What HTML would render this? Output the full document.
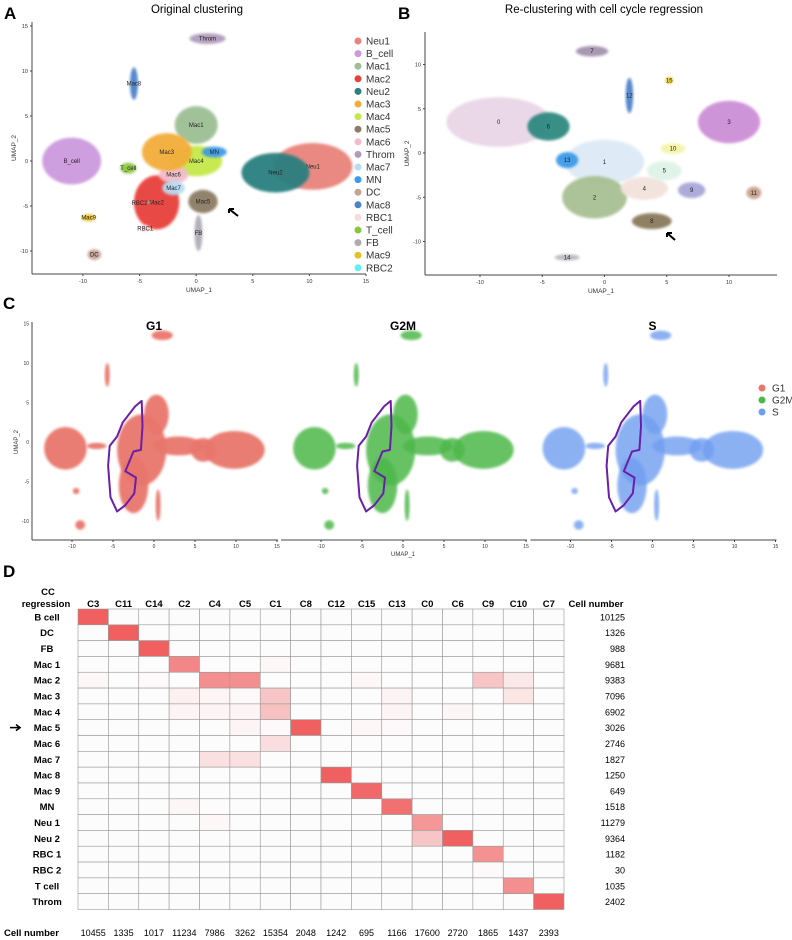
<!DOCTYPE html>
<html><head><meta charset="utf-8">
<style>
body{margin:0;background:#fff;}
svg{display:block;font-family:"Liberation Sans",sans-serif;}
</style></head>
<body>
<svg id="fig" width="792" height="940" viewBox="0 0 792 940"></svg>
<script>
// ---------- Data ----------
const aNames=["Neu1","B_cell","Mac1","Mac2","Neu2","Mac3","Mac4","Mac5","Mac6","Throm","Mac7","MN","DC","Mac8","RBC1","T_cell","FB","Mac9","RBC2"];
const aColors=["#e8837c","#cc99dd","#9dbf94","#e8413a","#2a7f7f","#f3ad3a","#c5e84a","#8c7b65","#f2bccb","#b19bbc","#b8dcf3","#3d9ae8","#c4a395","#4d82c9","#f8dcdc","#8cc63f","#b0aab5","#e6c124","#5ff0f5"];
const aCx=[10.3,-11,0,-3.5,7,-2.6,0,0.6,-2,1,-2,1.6,-9,-5.5,-4.5,-6,0.2,-9.5,-4.2];
const aCy=[-0.6,0,4,-4.6,-1.3,1,0,-4.5,-1.5,13.6,-3,1,-10.4,8.6,-7.5,-0.8,-8,-6.3,-4.6];
const aRx=[3.5,2.6,1.9,2,3,2.2,2.3,1.3,1.3,1.6,1,1.1,0.6,0.35,0.4,0.7,0.35,0.6,0.15];
const aRy=[2.6,2.6,2.1,3,2.2,2.1,1.7,1.3,1,0.6,0.8,0.6,0.6,1.8,0.4,0.6,2,0.4,0.15];
const aDraw=[16,0,4,1,2,3,6,8,10,11,7,9,13,12,14,15,17,18,5];

const bLabels=["0","6","1","13","2","4","5","9","8","3","10","11","7","12","15","14"];
const bColors=["#e9d6e8","#2f8a80","#dde9f5","#3d9ae8","#a8bf93","#f2e2dc","#dff3e8","#a9a7d8","#8a7a5c","#cc8fd6","#f6f3a8","#c8a08e","#a493ae","#4d82c9","#f0c91c","#b8b8c0"];
const bCx=[-8.5,-4.5,0,-3,-0.8,3.2,4.8,7,3.8,10,5.5,12,-1,2,5.2,-3];
const bCy=[3.5,3,-1,-0.8,-5,-4,-2,-4.2,-7.7,3.5,0.5,-4.5,11.5,6.5,8.2,-11.8];
const bRx=[4.2,1.7,3.2,0.9,2.6,1.9,1.4,1.1,1.6,2.5,1,0.6,1.3,0.3,0.3,1];
const bRy=[2.8,1.6,2.5,0.9,2.4,1.3,1.1,0.9,0.9,2.4,0.6,0.7,0.6,2,0.4,0.35];

const cPhases=["G1","G2M","S"];
const cColors=["#e8766c","#4db848","#6f9ef0"];
const cOpacity=[0.95,0.85,0.8];
const cCx=[-10.8,-1.5,0.3,9.8,3,-2.5,1,-5.7,-9.5,-9,0.5,-7,6];
const cCy=[-0.8,-1,3.5,-1,-0.5,-5.5,13.5,8.5,-6.2,-10.5,-8,-0.5,-1];
const cRx=[2.6,3,1.5,3.7,3,1.8,1.3,0.3,0.4,0.6,0.3,1.2,1.5];
const cRy=[2.7,4.5,2.5,2.4,1.2,3.5,0.6,1.5,0.4,0.6,2,0.4,1.5];
const outlineX=[-1.5,-1.4,-1.6,-2.5,-3.5,-2.2,-2.4,-3.5,-4.5,-5.3,-5.6,-5.4,-4.5,-3.8,-2.3,-1.5];
const outlineY=[5.2,2,-1,-1.2,-3.7,-4.5,-6.5,-8,-8.8,-7,-3,-0.5,0.7,2.5,4.5,5.2];

const hCols=["C3","C11","C14","C2","C4","C5","C1","C8","C12","C15","C13","C0","C6","C9","C10","C7"];
const hRows=["B cell","DC","FB","Mac 1","Mac 2","Mac 3","Mac 4","Mac 5","Mac 6","Mac 7","Mac 8","Mac 9","MN","Neu 1","Neu 2","RBC 1","RBC 2","T cell","Throm"];
const hRowTotals=[10125,1326,988,9681,9383,7096,6902,3026,2746,1827,1250,649,1518,11279,9364,1182,30,1035,2402];
const hColTotals=[10455,1335,1017,11234,7986,3262,15354,2048,1242,695,1166,17600,2720,1865,1437,2393];
const hVals=[
[1,0,0,0,0,0,0,0,0,0,0,0,0,0,0,0],
[0,1,0,0,0,0,0,0,0,0,0,0,0,0,0,0],
[0,0,1,0,0,0,0,0,0,0,0,0,0,0,0,0],
[0,0,0,0.75,0,0,0.03,0,0,0,0,0,0,0,0,0],
[0.03,0,0.02,0,0.7,0.7,0,0,0,0.03,0,0,0,0.35,0.12,0],
[0,0,0,0.08,0.05,0.02,0.35,0,0,0,0.06,0,0,0,0.15,0],
[0,0,0,0.05,0.05,0.05,0.38,0,0,0,0.05,0,0.04,0,0,0],
[0,0,0,0,0,0.05,0.02,1,0,0.03,0.02,0,0,0,0,0],
[0,0,0,0,0,0,0.2,0,0,0,0,0,0,0,0,0],
[0,0,0,0,0.18,0.18,0,0,0,0,0,0,0,0,0,0],
[0,0,0,0,0,0,0,0,1,0,0,0,0,0,0,0],
[0,0,0,0,0,0,0,0,0,0.95,0,0,0,0,0,0],
[0,0,0,0.04,0,0,0,0,0,0,0.9,0,0,0,0,0],
[0,0,0,0,0.03,0,0,0,0,0,0,0.65,0,0,0,0],
[0,0,0,0,0,0,0,0,0,0,0,0.35,1,0,0,0],
[0,0,0,0,0,0,0,0,0,0,0,0,0,0.68,0,0],
[0,0,0,0,0,0,0,0,0,0,0,0,0,0.02,0,0],
[0,0,0,0,0,0,0,0,0,0,0,0,0,0,0.7,0],
[0,0,0,0,0,0,0,0,0,0,0,0,0,0,0,1]];
const umapTicksA=[-10,-5,0,5,10,15];
const umapTicksAY=[-10,-5,0,5,10,15];
const umapTicksBY=[-10,-5,0,5,10];

// ---------- helpers ----------
const NS="http://www.w3.org/2000/svg";
const svg=document.getElementById('fig');
function mk(tag,attrs,parent){const e=document.createElementNS(NS,tag);for(const k in attrs)e.setAttribute(k,attrs[k]);(parent||svg).appendChild(e);return e;}
function txt(x,y,s,size,opts,parent){const o=Object.assign({x:x,y:y,'font-size':size,fill:'#000'},opts||{});const t=mk('text',o,parent);t.textContent=s;return t;}

[["A",4,19],["B",398,19],["C",3,309],["D",3,577]].forEach(p=>{const t=txt(p[1],p[2],p[0],17,{'font-weight':'bold'});

});
let t1=txt(197,13,"Original clustering",11.5,{'text-anchor':'middle'});


let t2=txt(604,13,"Re-clustering with cell cycle regression",11.5,{'text-anchor':'middle'});



function axes(g,x0,x1,yTop,yBot,sx,sy,xt,yt,xlab,ylab,name){
  mk('line',{x1:x0,y1:yTop,x2:x0,y2:yBot,stroke:'#444','stroke-width':1},g);
  mk('line',{x1:x0,y1:yBot,x2:x1,y2:yBot,stroke:'#444','stroke-width':1},g);
  xt.forEach(v=>{const X=sx(v);mk('line',{x1:X,y1:yBot,x2:X,y2:yBot+2,stroke:'#444'},g);
    const t=txt(X,yBot+9,String(v),5.5,{'text-anchor':'middle',fill:'#333'},g);
    
    });
  yt.forEach(v=>{const Y=sy(v);mk('line',{x1:x0-2,y1:Y,x2:x0,y2:Y,stroke:'#444'},g);
    const t=txt(x0-4,Y+2,String(v),5.5,{'text-anchor':'end',fill:'#333'},g);
    
    });
  if(xlab){const t=txt((x0+x1)/2,yBot+18,xlab,6.5,{'text-anchor':'middle',fill:'#333'},g);
    
    }
  if(ylab){const t=txt(0,0,ylab,6.5,{'text-anchor':'middle',fill:'#333',transform:`translate(${x0-16},${(yTop+yBot)/2}) rotate(-90)`},g);
    
    }
}
const defs=mk('defs',{});
const f=mk('filter',{id:'soft',x:'-20%',y:'-20%',width:'140%',height:'140%'},defs);
mk('feGaussianBlur',{stdDeviation:1.2},f);

// ---------- Panel A ----------
const gA=mk('g',{});


const axA={sx:v=>196.2+v*11.32,sy:v=>161-v*9};
axes(gA,32,366,22,274,axA.sx,axA.sy,umapTicksA,umapTicksAY,"UMAP_1","UMAP_2","panel-a");
aDraw.forEach(i=>{
  const e=mk('ellipse',{cx:axA.sx(aCx[i]),cy:axA.sy(aCy[i]),rx:aRx[i]*11.32,ry:aRy[i]*9,fill:aColors[i],filter:'url(#soft)',opacity:0.95},gA);
  
  
  if(aNames[i]!=="RBC2"){const t=txt(axA.sx(aCx[i]),axA.sy(aCy[i])+2,aNames[i],6,{'text-anchor':'middle',fill:'#222'},gA);
  
  }
});
let rl=txt(axA.sx(-5),axA.sy(-4.9),"RBC2",6,{'text-anchor':'middle',fill:'#222'},gA);


let arA=mk('path',{d:'M238,216 L229,209 M229,209 l5,0 M229,209 l0,4',stroke:'#000','stroke-width':2,fill:'none'},gA);


aNames.forEach((n,i)=>{const y=41+i*12.6;
  const c=mk('circle',{cx:358,cy:y,r:3.5,fill:aColors[i]},gA);
  
  
  const t=txt(366,y+3.5,n,10,{fill:'#333'},gA);
  
  });

// ---------- Panel B ----------
const gB=mk('g',{});


const axB={sx:v=>604.5+v*12.45,sy:v=>153-v*8.85};
axes(gB,425,777,32,275,axB.sx,axB.sy,[-10,-5,0,5,10],umapTicksBY,"UMAP_1","UMAP_2","panel-b");
bLabels.forEach((n,i)=>{
  const e=mk('ellipse',{cx:axB.sx(bCx[i]),cy:axB.sy(bCy[i]),rx:bRx[i]*12.45,ry:bRy[i]*8.85,fill:bColors[i],filter:'url(#soft)',opacity:0.95},gB);
  
  
  const t=txt(axB.sx(bCx[i]),axB.sy(bCy[i])+2,n,6,{'text-anchor':'middle',fill:'#222'},gB);
  
  
});
let arB=mk('path',{d:'M675,240 L667,233 M667,233 l5,0 M667,233 l0,4',stroke:'#000','stroke-width':2,fill:'none'},gB);



// ---------- Panel C ----------
const gC=mk('g',{});


const zeroX=[154,403,652.5];
cPhases.forEach((ph,p)=>{
  const sx=v=>zeroX[p]+v*8.2, sy=v=>442-v*7.9;
  const g=mk('g',{},gC);
  
  
  const left=p===0?32:zeroX[p]-122, right=zeroX[p]+124;
  mk('line',{x1:left,y1:540,x2:right,y2:540,stroke:'#444'},g);
  if(p===0)mk('line',{x1:32,y1:322,x2:32,y2:540,stroke:'#444'},g);
  [-10,-5,0,5,10,15].forEach(v=>{const X=sx(v);mk('line',{x1:X,y1:540,x2:X,y2:542,stroke:'#444'},g);
    const t=txt(X,548,String(v),5,{'text-anchor':'middle',fill:'#333'},g);
    
    });
  if(p===0){[-10,-5,0,5,10,15].forEach(v=>{const Y=sy(v);
    const t=txt(29,Y+2,String(v),5,{'text-anchor':'end',fill:'#333'},g);
    
    });
    const yt=txt(0,0,"UMAP_2",6,{'text-anchor':'middle',fill:'#333',transform:'translate(18,442) rotate(-90)'},g);
    
    }
  cCx.forEach((cx,i)=>{const e=mk('ellipse',{cx:sx(cx),cy:sy(cCy[i]),rx:cRx[i]*8.2,ry:cRy[i]*7.9,fill:cColors[p],opacity:cOpacity[p],filter:'url(#soft)'},g);
    
    });
  let d='';outlineX.forEach((v,i)=>{d+=(i?'L':'M')+sx(v).toFixed(1)+','+sy(outlineY[i]).toFixed(1)});
  const o=mk('path',{d:d+'Z',fill:'none',stroke:'#6a1fa8','stroke-width':2,'stroke-linejoin':'round'},g);
  
  
  const t=txt(zeroX[p],330,ph,12,{'text-anchor':'middle','font-weight':'bold'},g);
  
  
});
let cx1=txt(403,556,"UMAP_1",6,{'text-anchor':'middle',fill:'#333'},gC);


cPhases.forEach((ph,i)=>{const y=388+i*12;
  const c=mk('circle',{cx:762,cy:y,r:3.5,fill:cColors[i]},gC);
  
  
  const t=txt(772,y+3.5,ph,10,{fill:'#333'},gC);
  
  });

// ---------- Panel D heatmap ----------
const gD=mk('g',{});


const hx0=78,cw=486/16,hy0=609,rh=300.5/19;
const colX=j=>hx0+j*cw, rowY=i=>hy0+i*rh;
function shade(v){const r=Math.round(253+(240-253)*v),g=Math.round(252+(96-252)*v),b=Math.round(253+(96-253)*v);return `rgb(${r},${g},${b})`;}
hVals.forEach((row,i)=>row.forEach((v,j)=>{
  const r=mk('rect',{x:colX(j),y:rowY(i),width:cw,height:rh,fill:shade(v),stroke:'#999','stroke-width':0.6},gD);
  
  
}));
let cc=txt(48,595,"CC",9.5,{'text-anchor':'middle','font-weight':'bold'},gD);


let rg=txt(46,607,"regression",9.5,{'text-anchor':'middle','font-weight':'bold'},gD);


hCols.forEach((c,j)=>{const t=txt(colX(j)+cw/2,607,c,9.5,{'text-anchor':'middle','font-weight':'bold'},gD);
  
  
  const n=txt(colX(j)+cw/2,936,String(hColTotals[j]),9,{'text-anchor':'middle'},gD);
  
  });
let hn=txt(596,607,"Cell number",9.5,{'text-anchor':'middle','font-weight':'bold'},gD);


let bn=txt(4,936,"Cell number",9.5,{'font-weight':'bold'},gD);


hRows.forEach((r,i)=>{const y=rowY(i)+rh/2+3.5;
  const t=txt(47,y,r,9.5,{'text-anchor':'middle','font-weight':'bold'},gD);
  
  
  const n=txt(625,y,String(hRowTotals[i]),9,{'text-anchor':'end'},gD);
  
  });
let arD=mk('path',{d:'M10,'+(rowY(7)+rh/2)+' h10 m-4,-3 l4,3 l-4,3',stroke:'#000','stroke-width':1.6,fill:'none'},gD);


</script>
</body></html>
